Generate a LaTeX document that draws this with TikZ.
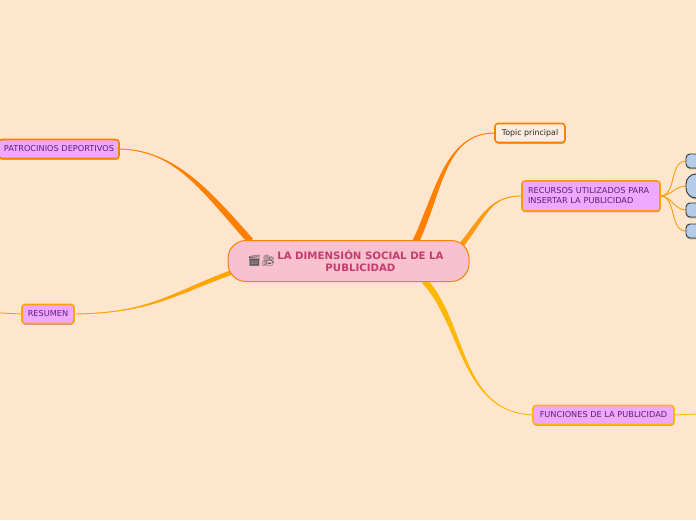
\documentclass[tikz,border=0pt]{standalone}
\usepackage{fontspec}
\setmainfont{DejaVu Sans}
\newfontfamily\emojifont{Noto Emoji}
\usetikzlibrary{positioning,calc,shadows}
\definecolor{pagecol}{HTML}{FEE6CE}
\definecolor{rootfill}{HTML}{F9C0D0}
\definecolor{roottext}{HTML}{C43C6E}
\definecolor{subfill}{HTML}{F0A8FF}
\definecolor{subtext}{HTML}{5C1F78}
\definecolor{leaffill}{HTML}{B4CCE8}
\definecolor{linkA}{HTML}{FF8000}
\definecolor{linkB}{HTML}{FF9A10}
\definecolor{linkC}{HTML}{FFA500}
\definecolor{linkD}{HTML}{FFB800}
\tikzset{
  softshadow/.style={drop shadow={shadow xshift=0.4pt, shadow yshift=-1.4pt, opacity=0.4, fill=black!70}},
  rootbox/.style={draw=linkA, line width=1pt, fill=rootfill, rounded corners=18pt, font=\fontsize{10.2}{12}\selectfont\bfseries,
    text=roottext, minimum width=241pt, minimum height=41pt, inner sep=0pt, outer sep=0pt},
  subbox/.style={draw=#1, line width=1.6pt, fill=subfill, rounded corners=3pt, font=\fontsize{8.2}{10}\selectfont,
    text=subtext, align=left, minimum height=19pt, inner xsep=5pt, inner ysep=2pt, outer sep=0pt, softshadow},
  topicbox/.style={draw=linkA, line width=1.6pt, fill=pagecol!70!white, rounded corners=3pt, font=\fontsize{7.9}{9}\selectfont,
    text=black!85, minimum height=19pt, inner xsep=5pt, inner ysep=2pt, outer sep=0pt, softshadow},
  leafbox/.style={draw=black!80, line width=0.9pt, fill=leaffill, rounded corners=#1, minimum width=24pt, anchor=west, outer sep=0pt, softshadow},
  thinlink/.style={line width=0.9pt}
}
\pgfdeclarelayer{links}
\pgfsetlayers{links,main}
% colour, root point, half width, control 1, control 2, end node
\newcommand{\taperlink}[6]{
  \fill[#1] ($(#2)+(#3)$) .. controls ($(#4)+(#3)$) and (#5) .. (#6) .. controls (#5) and ($(#4)-(#3)$) .. ($(#2)-(#3)$) -- cycle;
  \draw[#1, thinlink] (#2) .. controls (#4) and (#5) .. (#6);
}
\begin{document}
\begin{tikzpicture}[x=1pt, y=1pt]
    \useasboundingbox (0,0) rectangle (696,-520);
    \node[rootbox] (root) at (348.5,-261) {{\emojifont\fontsize{11}{13}\selectfont\color{black!65}🎬🎥}\hspace{2pt}\raisebox{0pt}[0pt][0pt]{\begin{tabular}{@{}c@{}}LA DIMENSIÓN SOCIAL DE LA\\PUBLICIDAD\end{tabular}}\hspace{6pt}\null};
    \node[topicbox, above right=98pt and 26pt of root.north east, anchor=south west, minimum width=70pt] (topic) {Topic principal};
    \node[subbox=linkB, above right=29.5pt and 53pt of root.north east, anchor=south west, minimum height=30pt, text width=126pt, inner xsep=6pt] (recursos) {RECURSOS UTILIZADOS PARA\\INSERTAR LA PUBLICIDAD};
    \node[subbox=linkD, below right=124pt and 64pt of root.south east, anchor=north west, minimum width=141pt] (funciones) {FUNCIONES DE LA PUBLICIDAD};
    \node[subbox=linkA, above left=82pt and 109pt of root.north west, anchor=south east] (patrocinios) {PATROCINIOS DEPORTIVOS};
    \node[subbox=linkC, below left=23pt and 154pt of root.south west, anchor=north east, minimum width=52pt] (resumen) {RESUMEN};
    \node[leafbox=4pt, minimum height=14pt, right=26pt of recursos.east, yshift=35pt] (leafa) {};
    \node[leafbox=10pt, minimum height=24pt, right=26pt of recursos.east, yshift=10pt] (leafb) {};
    \node[leafbox=4pt, minimum height=14pt, right=26pt of recursos.east, yshift=-14pt] (leafc) {};
    \node[leafbox=4pt, minimum height=14pt, right=26pt of recursos.east, yshift=-35pt] (leafd) {};
    \coordinate (rootT) at ($(root.center)+(67,19)$);
    \coordinate (rootR) at ($(root.center)+(113,16)$);
    \coordinate (rootP) at ($(root.center)+(-98,20)$);
    \coordinate (rootS) at ($(root.center)+(-116,-11)$);
    \coordinate (rootF) at ($(root.center)+(76,-20)$);
    \coordinate (leftend) at (0,-313);
    \coordinate (rightend) at (696,-414);
    \begin{pgfonlayer}{links}
      \fill[pagecol] (0,0) rectangle (696,-520);
      \taperlink{linkA}{rootT}{3,-1.4}{440,-190}{445,-133}{topic.west}
      \taperlink{linkB}{rootR}{2,-1.5}{485,-215}{490,-196}{recursos.west}
      \taperlink{linkA}{rootP}{2.5,2.2}{205,-190}{175,-150}{patrocinios.east}
      \taperlink{linkC}{rootS}{1,2.8}{170,-295}{150,-313}{resumen.east}
      \taperlink{linkD}{rootF}{2.3,2.1}{465,-325}{460,-412}{funciones.west}
      \draw[linkC, thinlink] (resumen.west) -- (leftend);
      \draw[linkD, thinlink] (funciones.east) -- (rightend);
      \draw[linkB, thinlink] (recursos.east) to[out=0, in=180] (leafa.west);
      \draw[linkB, thinlink] (recursos.east) to[out=0, in=180] (leafb.west);
      \draw[linkB, thinlink] (recursos.east) to[out=0, in=180] (leafc.west);
      \draw[linkB, thinlink] (recursos.east) to[out=0, in=180] (leafd.west);
    \end{pgfonlayer}
  \end{tikzpicture}
\end{document}
